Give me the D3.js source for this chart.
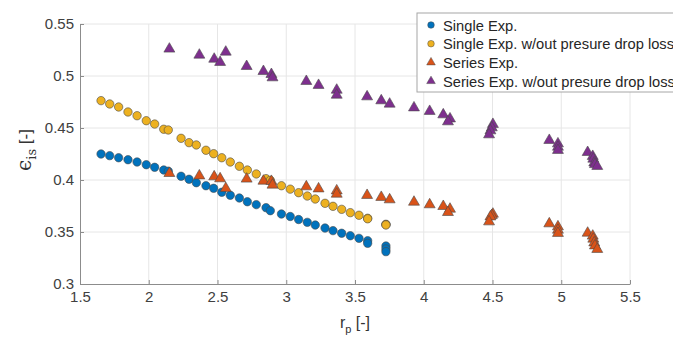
<!DOCTYPE html>
<html>
<head>
<meta charset="utf-8">
<script src="https://cdn.jsdelivr.net/npm/d3@7"></script>
<style>
  body { margin: 0; background: #fff; }
  svg { display: block; font-family: "Liberation Sans", Arial, sans-serif; }
</style>
</head>
<body>
<div class="container"></div>
<script>
// pressure ratio of the single stage runs
const rpSingle = [1.653, 1.716, 1.781, 1.849, 1.915, 1.982, 2.043, 2.109, 2.142, 2.235,
    2.293, 2.346, 2.416, 2.472, 2.531, 2.593, 2.659, 2.717, 2.782, 2.853,
    2.884, 2.965, 3.029, 3.090, 3.153, 3.211, 3.282, 3.340, 3.403, 3.466,
    3.529, 3.592, 3.592, 3.725, 3.725, 3.725];
const singleExp = [0.4250, 0.4234, 0.4214, 0.4195, 0.4173, 0.4147, 0.4122, 0.4096, 0.4085, 0.4036,
    0.4007, 0.3974, 0.3945, 0.3920, 0.3882, 0.3853, 0.3827, 0.3791, 0.3763, 0.3734,
    0.3705, 0.3673, 0.3649, 0.3620, 0.3593, 0.3567, 0.3538, 0.3513, 0.3488, 0.3464,
    0.3439, 0.3416, 0.3391, 0.3365, 0.3337, 0.3311];
const singleNoLoss = [0.4763, 0.4731, 0.4702, 0.4654, 0.4618, 0.4570, 0.4538, 0.4488, 0.4481, 0.4401,
    0.4359, 0.4337, 0.4286, 0.4253, 0.4214, 0.4173, 0.4132, 0.4096, 0.4058, 0.4013,
    0.3997, 0.3945, 0.3912, 0.3878, 0.3846, 0.3817, 0.3776, 0.3747, 0.3718, 0.3686,
    0.3661, 0.3632, 0.3627, 0.3574, 0.3571, 0.3568];

// pressure ratio of the series runs
const rpSeries = [2.150, 2.368, 2.476, 2.519, 2.560, 2.712, 2.834, 2.892, 2.900, 3.146,
    3.235, 3.367, 3.367, 3.588, 3.691, 3.752, 3.929, 4.043, 4.142, 4.191,
    4.176, 4.503, 4.495, 4.485, 4.475, 4.913, 4.976, 4.976, 4.976, 5.192,
    5.229, 5.233, 5.240, 5.245, 5.262];
const seriesExp = [0.4064, 0.4041, 0.4032, 0.4013, 0.3920, 0.4010, 0.3990, 0.3988, 0.3952, 0.3936,
    0.3916, 0.3897, 0.3865, 0.3853, 0.3834, 0.3811, 0.3788, 0.3763, 0.3747, 0.3721,
    0.3689, 0.3673, 0.3660, 0.3647, 0.3599, 0.3580, 0.3551, 0.3519, 0.3488, 0.3490,
    0.3462, 0.3433, 0.3397, 0.3368, 0.3334];
const seriesNoLoss = [0.5260, 0.5202, 0.5163, 0.5132, 0.5231, 0.5093, 0.5045, 0.5016, 0.4984, 0.4949,
    0.4911, 0.4865, 0.4817, 0.4801, 0.4763, 0.4731, 0.4695, 0.4661, 0.4628, 0.4589,
    0.4561, 0.4536, 0.4503, 0.4474, 0.4436, 0.4382, 0.4349, 0.4317, 0.4286, 0.4266,
    0.4228, 0.4202, 0.4166, 0.4150, 0.4132];

const xTicks = [1.5, 2, 2.5, 3, 3.5, 4, 4.5, 5, 5.5];
const yTicks = [0.3, 0.35, 0.4, 0.45, 0.5, 0.55];
const legendLabels = ['Single Exp.', 'Single Exp. w/out presure drop loss',
    'Series Exp.', 'Series Exp. w/out presure drop loss'];

const width = 673, height = 337;
const margin = {top: 24, right: 43, bottom: 53, left: 80};
const plotW = width - margin.left - margin.right;
const plotH = height - margin.top - margin.bottom;

const svg = d3.select('.container')
    .append('svg')
    .attr('width', width)
    .attr('height', height);

const g = svg.append('g')
    .attr('transform', `translate(${margin.left},${margin.top})`);

const x = d3.scaleLinear().domain([1.5, 5.5]).range([0, plotW]);
const y = d3.scaleLinear().domain([0.3, 0.55]).range([plotH, 0]);

// grid
g.append('g').selectAll('line').data(xTicks.slice(1)).enter().append('line')
    .attr('x1', d => x(d)).attr('x2', d => x(d))
    .attr('y1', 0).attr('y2', plotH)
    .attr('stroke', '#e6e6e6');
g.append('g').selectAll('line').data(yTicks.slice(1)).enter().append('line')
    .attr('x1', 0).attr('x2', plotW)
    .attr('y1', d => y(d)).attr('y2', d => y(d))
    .attr('stroke', '#e6e6e6');

// axes, ticks inward like matlab
const xAxis = g.append('g')
    .attr('transform', `translate(0,${plotH})`)
    .call(d3.axisBottom(x).tickValues(xTicks).tickFormat(d3.format('')).tickSizeInner(-4).tickSizeOuter(0).tickPadding(10));
const yAxis = g.append('g')
    .call(d3.axisLeft(y).tickValues(yTicks).tickFormat(d3.format('')).tickSizeInner(-4).tickSizeOuter(0).tickPadding(6));

[xAxis, yAxis].forEach(a => {
    a.select('.domain').attr('stroke', '#8c8c8c');
    a.selectAll('.tick line').attr('stroke', '#8c8c8c');
    a.selectAll('.tick text')
        .attr('fill', '#404040')
        .style('font-size', '15px')
        .style('font-family', '"Liberation Sans", Arial, sans-serif');
});
xAxis.selectAll('.tick text').attr('dy', '0.5em');

// axis labels
const xl = svg.append('text')
    .attr('x', margin.left + plotW / 2)
    .attr('y', 328)
    .attr('text-anchor', 'middle')
    .attr('fill', '#333')
    .style('font-size', '16px');
xl.append('tspan').text('r');
xl.append('tspan').attr('dy', 5).style('font-size', '11px').text('p');
xl.append('tspan').attr('dy', -5).text(' [-]');

const yl = svg.append('text')
    .attr('transform', `translate(31,${margin.top + plotH / 2 - 4}) rotate(-90)`)
    .attr('text-anchor', 'middle')
    .attr('fill', '#333')
    .style('font-size', '20px');
yl.append('tspan').style('font-family', '"DejaVu Serif", serif').text('ϵ');
yl.append('tspan').attr('dy', 5).style('font-family', '"DejaVu Serif", serif').style('font-size', '13px').text('is');
yl.append('tspan').attr('dy', -5).style('font-size', '17px').text('  [-]');

const colors = ['#0072BD', '#EDB120', '#D95319', '#7E2F8E'];
const tri = d3.symbol().type(d3.symbolTriangle).size(52);

function circles(xs, ys, color) {
    g.append('g').selectAll('circle')
        .data(xs.map((d, i) => [d, ys[i]]))
        .enter().append('circle')
        .attr('cx', d => x(d[0]))
        .attr('cy', d => y(d[1]))
        .attr('r', 4.2)
        .attr('fill', color)
        .attr('stroke', '#4a4a4a')
        .attr('stroke-width', 0.6);
}

function triangles(xs, ys, color) {
    g.append('g').selectAll('path')
        .data(xs.map((d, i) => [d, ys[i]]))
        .enter().append('path')
        .attr('d', tri)
        .attr('transform', d => `translate(${x(d[0])},${y(d[1])})`)
        .attr('fill', color)
        .attr('stroke', '#4a4a4a')
        .attr('stroke-width', 0.6);
}

circles(rpSingle, singleExp, colors[0]);
circles(rpSingle, singleNoLoss, colors[1]);
triangles(rpSeries, seriesExp, colors[2]);
triangles(rpSeries, seriesNoLoss, colors[3]);

// legend, runs off the right edge like the original
const leg = svg.append('g').attr('transform', 'translate(417,13)');
leg.append('rect')
    .attr('width', 300).attr('height', 79)
    .attr('fill', '#fff')
    .attr('stroke', '#a6a6a6');
legendLabels.forEach((lab, i) => {
    const row = leg.append('g').attr('transform', `translate(14,${12 + i * 18.7})`);
    if (i < 2) {
        row.append('circle').attr('r', 3.3)
            .attr('fill', colors[i]).attr('stroke', '#4a4a4a').attr('stroke-width', 0.5);
    } else {
        row.append('path').attr('d', d3.symbol().type(d3.symbolTriangle).size(32))
            .attr('fill', colors[i]).attr('stroke', '#4a4a4a').attr('stroke-width', 0.5);
    }
    row.append('text')
        .attr('x', 12).attr('y', 5.5)
        .attr('fill', '#262626')
        .style('font-size', '14.7px')
        .text(lab);
});
</script>
</body>
</html>
